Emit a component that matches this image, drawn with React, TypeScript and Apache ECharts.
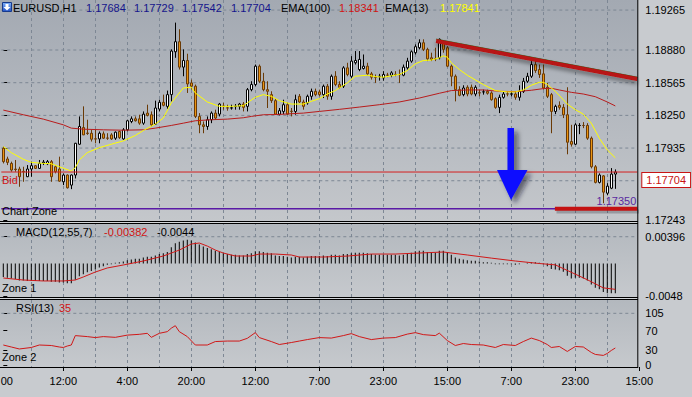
import React, { useEffect, useRef } from "react";
import * as echarts from "echarts";

// ---------- DATA ----------
// candles: [open, close, low, high]
const candles: number[][] = [
  [1.17933, 1.17804, 1.17787, 1.17949], [1.1783, 1.17797, 1.17771, 1.17852], [1.17787, 1.17723, 1.17707, 1.17804],
  [1.17733, 1.17728, 1.17707, 1.1782], [1.17733, 1.17659, 1.17562, 1.17755], [1.1771, 1.17705, 1.1761, 1.17755],
  [1.17659, 1.17733, 1.17655, 1.17771], [1.17733, 1.17765, 1.17659, 1.17804], [1.17765, 1.17739, 1.17733, 1.17771],
  [1.17739, 1.17787, 1.17733, 1.1782], [1.1779, 1.178, 1.17771, 1.1782], [1.17784, 1.17804, 1.17771, 1.1782],
  [1.17804, 1.17659, 1.1761, 1.1782], [1.17755, 1.17707, 1.17691, 1.17771], [1.17733, 1.17616, 1.1761, 1.17852],
  [1.1761, 1.17675, 1.17578, 1.17691], [1.17675, 1.17552, 1.17545, 1.17681], [1.17578, 1.17675, 1.17539, 1.17681],
  [1.17675, 1.17981, 1.17642, 1.17985], [1.17972, 1.18143, 1.17965, 1.1824], [1.18133, 1.18062, 1.1806, 1.18337],
  [1.1808, 1.18076, 1.18062, 1.18208], [1.18078, 1.1802, 1.17998, 1.18111], [1.18024, 1.18022, 1.17981, 1.18111],
  [1.18023, 1.18078, 1.17981, 1.18095], [1.18072, 1.1803, 1.18023, 1.18095], [1.18032, 1.1803, 1.18014, 1.18078],
  [1.18062, 1.18023, 1.18014, 1.18078], [1.1803, 1.18088, 1.18014, 1.18095], [1.18095, 1.18036, 1.18023, 1.18101],
  [1.18023, 1.18111, 1.18014, 1.18127], [1.18111, 1.18198, 1.18095, 1.18208], [1.18191, 1.18217, 1.18175, 1.1824],
  [1.18217, 1.18198, 1.18191, 1.1824], [1.18217, 1.18175, 1.18159, 1.18256], [1.18175, 1.18262, 1.18159, 1.18288],
  [1.18272, 1.1825, 1.1824, 1.18353], [1.18256, 1.18159, 1.18143, 1.18288], [1.18166, 1.18321, 1.18159, 1.18392],
  [1.18311, 1.18376, 1.18288, 1.18401], [1.18376, 1.18347, 1.18337, 1.1845], [1.18337, 1.1845, 1.18314, 1.18489],
  [1.1845, 1.1887, 1.18385, 1.18886], [1.18863, 1.1896, 1.18805, 1.19144], [1.1896, 1.18715, 1.18692, 1.1908],
  [1.18715, 1.18779, 1.18627, 1.18886], [1.18779, 1.18553, 1.18466, 1.18844], [1.18563, 1.18531, 1.18498, 1.18595],
  [1.18531, 1.1824, 1.18224, 1.18547], [1.1824, 1.18159, 1.18078, 1.18272], [1.18159, 1.18143, 1.18078, 1.18191],
  [1.18143, 1.18208, 1.18111, 1.1824], [1.18208, 1.18272, 1.18175, 1.18288], [1.18272, 1.18224, 1.18208, 1.18305],
  [1.18262, 1.18359, 1.1824, 1.1837], [1.1834, 1.18337, 1.18305, 1.1837], [1.18322, 1.18321, 1.18295, 1.18353],
  [1.18321, 1.18322, 1.18305, 1.18353], [1.18335, 1.18338, 1.18305, 1.18359], [1.18337, 1.18359, 1.18305, 1.1837],
  [1.18359, 1.18327, 1.18288, 1.18379], [1.18337, 1.18498, 1.18288, 1.18514], [1.18498, 1.18547, 1.18482, 1.18579],
  [1.18547, 1.18724, 1.18531, 1.1874], [1.18724, 1.18579, 1.18563, 1.1874], [1.18579, 1.18498, 1.18482, 1.1866],
  [1.18498, 1.18482, 1.18321, 1.18579], [1.1845, 1.18392, 1.1837, 1.18482], [1.18392, 1.18262, 1.18256, 1.18417],
  [1.18262, 1.18295, 1.1825, 1.18321], [1.18288, 1.18353, 1.18262, 1.18401], [1.18353, 1.18262, 1.18256, 1.1837],
  [1.1829, 1.18288, 1.1824, 1.18321], [1.18288, 1.18401, 1.18256, 1.1845], [1.18434, 1.18379, 1.1837, 1.18456],
  [1.18379, 1.18337, 1.18305, 1.18401], [1.1837, 1.18434, 1.18353, 1.1845], [1.18434, 1.18482, 1.18401, 1.18508],
  [1.18482, 1.1845, 1.18434, 1.18508], [1.18476, 1.1845, 1.18434, 1.18498], [1.1845, 1.18531, 1.18417, 1.18547],
  [1.18531, 1.18434, 1.18401, 1.18553], [1.18434, 1.18627, 1.18401, 1.18644], [1.18627, 1.18547, 1.18531, 1.18676],
  [1.18547, 1.18521, 1.18508, 1.18579], [1.18531, 1.18708, 1.18514, 1.18724], [1.18708, 1.18644, 1.18627, 1.18757],
  [1.18627, 1.18773, 1.18611, 1.18821], [1.18757, 1.18779, 1.1874, 1.1887], [1.18692, 1.18789, 1.18676, 1.1887],
  [1.18702, 1.18724, 1.18692, 1.18837], [1.18724, 1.1865, 1.18637, 1.18757], [1.1865, 1.18618, 1.18595, 1.18669],
  [1.1862, 1.18618, 1.18563, 1.18644], [1.18625, 1.18627, 1.18585, 1.1865], [1.18611, 1.18644, 1.18585, 1.18676],
  [1.18638, 1.18637, 1.18618, 1.1866], [1.18637, 1.1866, 1.18618, 1.18676], [1.18645, 1.18644, 1.18627, 1.18676],
  [1.18644, 1.18642, 1.18563, 1.18692], [1.18637, 1.18715, 1.18627, 1.1874], [1.18708, 1.18773, 1.18692, 1.18805],
  [1.18773, 1.18863, 1.18757, 1.18876], [1.18854, 1.18912, 1.18837, 1.18934], [1.18902, 1.1895, 1.18886, 1.18983],
  [1.1895, 1.18886, 1.1887, 1.18983], [1.18886, 1.18795, 1.18773, 1.18902], [1.18805, 1.18789, 1.18773, 1.18854],
  [1.18796, 1.18795, 1.18773, 1.18902], [1.18805, 1.18983, 1.18789, 1.18992], [1.1895, 1.18886, 1.18854, 1.18973],
  [1.18902, 1.18724, 1.18715, 1.18918], [1.18724, 1.18627, 1.18531, 1.1874], [1.18627, 1.18498, 1.18385, 1.18644],
  [1.18498, 1.18443, 1.18434, 1.18531], [1.1845, 1.18514, 1.18434, 1.1854], [1.18521, 1.18456, 1.18434, 1.1854],
  [1.18521, 1.18456, 1.18443, 1.18547], [1.18456, 1.18521, 1.18434, 1.1854], [1.18468, 1.18466, 1.18434, 1.18498],
  [1.18476, 1.18477, 1.1845, 1.18498], [1.18482, 1.18463, 1.1845, 1.18498], [1.18466, 1.18401, 1.18392, 1.18482],
  [1.18411, 1.18327, 1.18314, 1.18424], [1.18327, 1.18424, 1.18272, 1.1845], [1.18424, 1.18456, 1.18411, 1.18482],
  [1.18457, 1.18456, 1.18434, 1.18482], [1.18455, 1.18457, 1.18434, 1.18482], [1.18456, 1.18424, 1.18401, 1.18482],
  [1.18424, 1.18482, 1.18392, 1.1854], [1.18482, 1.18579, 1.18466, 1.18611], [1.18579, 1.18627, 1.18563, 1.1866],
  [1.18627, 1.1874, 1.18611, 1.18773], [1.1874, 1.18682, 1.1866, 1.18789], [1.18692, 1.18644, 1.18611, 1.1874],
  [1.1865, 1.18514, 1.18498, 1.1874], [1.18521, 1.18434, 1.18417, 1.18563], [1.1845, 1.18288, 1.18078, 1.18466],
  [1.18288, 1.18337, 1.18262, 1.18353], [1.18347, 1.18327, 1.18305, 1.18385], [1.18327, 1.18256, 1.18224, 1.18359],
  [1.18256, 1.17991, 1.17875, 1.18521], [1.17998, 1.17972, 1.17949, 1.18159], [1.17972, 1.18159, 1.17965, 1.18175],
  [1.18152, 1.18153, 1.18069, 1.18175], [1.18153, 1.18152, 1.18127, 1.18185], [1.18153, 1.1803, 1.18014, 1.18175],
  [1.1803, 1.17755, 1.17739, 1.18046], [1.17755, 1.17604, 1.17594, 1.17771], [1.17604, 1.17675, 1.17594, 1.17691],
  [1.17667, 1.1751, 1.17403, 1.17675], [1.175, 1.17568, 1.1748, 1.17597], [1.17548, 1.17684, 1.17539, 1.17742],
  [1.17684, 1.17704, 1.17542, 1.17729],
];

// [bar index, value]
const ema100: number[][] = [
  [0, 1.18301], [5, 1.18256], [10, 1.18214], [15, 1.18159], [17, 1.18127], [20, 1.18117], [25, 1.18111], [30, 1.18107],
  [35, 1.18111], [38, 1.18127], [42, 1.18153], [45, 1.18175], [48, 1.18198], [52, 1.18208], [56, 1.18214], [60, 1.18227],
  [62, 1.1824], [65, 1.18256], [69, 1.18259], [72, 1.18266], [75, 1.18272], [79, 1.18288], [84, 1.18308], [89, 1.1833],
  [94, 1.18353], [99, 1.18379], [104, 1.18417], [109, 1.18463], [112, 1.18489], [116, 1.18495], [120, 1.18495],
  [124, 1.18482], [128, 1.18479], [132, 1.18492], [135, 1.18508], [137, 1.18511], [139, 1.18495], [142, 1.18472],
  [145, 1.18456], [148, 1.1843], [151, 1.18379], [153, 1.18341],
];
const ema13: number[][] = [
  [0, 1.17949], [2, 1.17891], [5, 1.17827], [7, 1.17797], [10, 1.17787], [12, 1.17784], [14, 1.17755], [17, 1.17713],
  [18, 1.17746], [19, 1.1782], [21, 1.17891], [24, 1.17939], [27, 1.17972], [30, 1.18004], [33, 1.18056], [35, 1.18104],
  [38, 1.18166], [40, 1.18224], [42, 1.1837], [44, 1.18466], [45, 1.18514], [47, 1.18521], [48, 1.18466], [51, 1.18379],
  [54, 1.18337], [57, 1.18337], [60, 1.18343], [61, 1.1837], [63, 1.18424], [65, 1.1845], [67, 1.18434], [69, 1.18392],
  [72, 1.18359], [75, 1.18359], [77, 1.18385], [79, 1.18411], [81, 1.18456], [83, 1.18489], [86, 1.18563], [88, 1.18627],
  [91, 1.18637], [93, 1.18624], [95, 1.18618], [97, 1.18631], [99, 1.18644], [101, 1.18682], [103, 1.18747],
  [105, 1.18779], [107, 1.18783], [109, 1.18805], [110, 1.18824], [111, 1.18811], [112, 1.18757], [114, 1.18692],
  [116, 1.18637], [118, 1.18592], [120, 1.18547], [123, 1.18489], [126, 1.18476], [128, 1.18476], [130, 1.18495],
  [132, 1.1854], [134, 1.18569], [135, 1.18569], [136, 1.18547], [138, 1.18482], [140, 1.18401], [141, 1.18359],
  [143, 1.18305], [145, 1.18262], [147, 1.18175], [149, 1.1803], [151, 1.17917], [153, 1.17841],
];

const macdHist: number[] = [
  -0.002, -0.0021, -0.0022, -0.0023, -0.0025, -0.0025, -0.0026, -0.0026, -0.0026, -0.0026, -0.0026, -0.0026, -0.0027,
  -0.0027, -0.0028, -0.0028, -0.0029, -0.0029, -0.0024, -0.0019, -0.0016, -0.0013, -0.0011, -0.0009, -0.0006, -0.0004,
  -0.0002, -0.0001, 0.0001, 0.0002, 0.0003, 0.0005, 0.0006, 0.0007, 0.0007, 0.0009, 0.001, 0.001, 0.0012, 0.0014,
  0.0015, 0.0017, 0.0024, 0.003, 0.0032, 0.0034, 0.0035, 0.0034, 0.0031, 0.0028, 0.0025, 0.0023, 0.0021, 0.0019,
  0.0017, 0.0015, 0.0014, 0.0013, 0.0013, 0.0012, 0.0012, 0.0014, 0.0015, 0.0018, 0.0018, 0.0017, 0.0016, 0.0015,
  0.0012, 0.0011, 0.0011, 0.001, 0.0009, 0.001, 0.001, 0.0009, 0.001, 0.0011, 0.0011, 0.0011, 0.0012, 0.0011, 0.0013,
  0.0013, 0.0012, 0.0014, 0.0014, 0.0015, 0.0016, 0.0016, 0.0016, 0.0015, 0.0014, 0.0013, 0.0013, 0.0013, 0.0013,
  0.0013, 0.0013, 0.0012, 0.0013, 0.0014, 0.0016, 0.0018, 0.0019, 0.0019, 0.0017, 0.0016, 0.0016, 0.0019, 0.0019,
  0.0016, 0.0013, 0.0009, 0.0007, 0.0006, 0.0005, 0.0004, 0.0004, 0.0003, 0.0002, 0.0002, 0.0001, -0.0001, -0.0001,
  -0.0001, -0.0001, -0.0001, -0.0002, -0.0001, 0.0, 0.0001, 0.0002, 0.0002, 0.0001, -0.0001, -0.0004, -0.0008,
  -0.0009, -0.001, -0.0012, -0.0018, -0.0022, -0.0021, -0.0021, -0.0022, -0.0025, -0.0031, -0.0036, -0.0038, -0.0042,
  -0.0044, -0.0044, -0.0044,
];
const macdSignal: number[][] = [
  [0, -0.00214], [5, -0.00244], [10, -0.00258], [15, -0.00258], [18, -0.00244], [20, -0.00199], [23, -0.00126],
  [26, -0.00066], [30, -0.00022], [35, 0.00037], [40, 0.00111], [44, 0.00199], [47, 0.00288], [49, 0.00303],
  [51, 0.00258], [53, 0.00199], [55, 0.00155], [58, 0.00111], [62, 0.00111], [64, 0.0014], [68, 0.0014], [72, 0.00126],
  [74, 0.00096], [80, 0.00096], [86, 0.0011], [92, 0.0014], [98, 0.0014], [104, 0.00155], [110, 0.0017], [116, 0.00126],
  [122, 0.0008], [128, 0.00037], [134, 0.0], [138, -0.0002], [142, -0.0013], [146, -0.0024], [150, -0.0036],
  [153, -0.00382],
];
const rsi: number[][] = [
  [0, 41], [2, 37], [4, 33], [7, 36], [9, 41], [12, 40], [14, 37], [15, 36], [16, 39], [17, 41], [18, 60], [21, 58],
  [23, 56], [25, 58], [28, 56.5], [31, 61], [34, 62.6], [36, 64.6], [37, 56.5], [39, 64.6], [41, 68], [42, 75], [43, 80],
  [44, 68], [46, 58], [48, 41], [51, 41], [53, 48], [56, 49], [59, 49], [61, 54.5], [63, 66], [64, 56], [67, 48], [69, 42],
  [72, 46], [74, 49], [76, 52], [79, 56], [82, 55], [85, 60], [87, 64], [89, 58], [92, 52], [95, 55], [98, 56], [101, 63],
  [103, 66], [105, 62], [108, 60], [109, 65], [111, 50], [113, 40], [115, 44], [117, 42], [120, 41], [123, 36], [125, 42],
  [128, 40], [130, 48], [132, 55], [134, 50], [136, 42], [137, 36], [139, 38], [141, 28], [143, 38], [145, 37], [147, 26],
  [148, 22], [150, 20], [151, 24], [152, 30], [153, 35],
];

const priceTicks = [1.19265, 1.1888, 1.18565, 1.1825, 1.17935, 1.17243];
const priceGrid = [1.19265, 1.1888, 1.18565, 1.1825, 1.17935, 1.1762];
const macdTicks = [0.00396, -0.0048];
const macdTickLabels = ["0.00396", "-0.0048"];
const rsiTicks = [105, 70, 30, 0];
const timeLabels = ["00", "12:00", "4:00", "20:00", "12:00", "7:00", "23:00", "15:00", "7:00", "23:00", "15:00"];
const bidPrice = 1.17704;
const zonePrice = 1.1735;
// [bar position, price]
const trendLine = [[108.2, 1.18967], [158.5, 1.186]];
const supportLine = [[137.9, 1.1735], [158.5, 1.1735]];

// ---------- CHART ----------
const FONT = "'Liberation Sans', Arial, sans-serif";
const SLOTS = 159;
const X0 = -0.5;
const X1 = SLOTS - 0.5;
const slotCats = Array.from({ length: SLOTS }, (_, i) => String(i));
const timeCats = Array.from({ length: 161 }, (_, k) => (k % 16 === 0 ? timeLabels[k / 16] : ""));

function txt(text: string, x: number, y: number, fill: string, extra: any = {}) {
  return {
    type: "text",
    x,
    y,
    z: 50,
    silent: true,
    style: { text, fill, font: `11px ${FONT}`, textVerticalAlign: "middle", verticalAlign: "middle", ...extra },
  };
}

function buildOption() {
  const last = candles[candles.length - 1];
  const headerVals = [last[0], last[3], last[2], last[1]].map((v) => v.toFixed(5));
  const ema100Last = ema100[ema100.length - 1][1].toFixed(5);
  const ema13Last = ema13[ema13.length - 1][1].toFixed(5);
  const sigLast = macdSignal[macdSignal.length - 1][1].toFixed(5);
  const histLast = String(macdHist[macdHist.length - 1]);
  const rsiLast = String(rsi[rsi.length - 1][1]);

  const grad = (a: string, b: string) => ({
    type: "linear", x: 0, y: 0, x2: 0, y2: 1,
    colorStops: [{ offset: 0, color: a }, { offset: 1, color: b }],
  });
  const gridDash = { color: "#7d8794", type: [3, 3], width: 1 };
  const black = "#000000";

  const hLine = (y: number) => ({
    type: "line", z: 60, silent: true,
    shape: { x1: 0, y1: y, x2: 638, y2: y },
    style: { stroke: black, lineWidth: 1 },
  });

  // a straight segment drawn through the axes of one panel
  const seg = (xi: number, yi: number, pts: number[][], lineStyle: any, z: number, extra: any = {}) => ({
    type: "line", xAxisIndex: xi, yAxisIndex: yi, data: pts, showSymbol: false, symbol: "none",
    lineStyle, z, silent: true, clip: false, ...extra,
  });

  const series: any[] = [];
  priceGrid.forEach((v) => series.push(seg(4, 0, [[X0, v], [X1, v]], gridDash, 1)));
  series.push(seg(5, 1, [[X0, macdTicks[0]], [X1, macdTicks[0]]], gridDash, 1));
  series.push(seg(6, 2, [[X0, rsiTicks[0]], [X1, rsiTicks[0]]], gridDash, 1));

  series.push({
    type: "candlestick", xAxisIndex: 0, yAxisIndex: 0, data: candles, barWidth: 3, z: 3, silent: true,
    itemStyle: { color: "#ffffff", color0: "#eb9410", borderColor: "#000000", borderColor0: "#6a3a06", borderWidth: 1 },
  });
  series.push({
    type: "line", name: "EMA(100)", xAxisIndex: 0, yAxisIndex: 0, data: ema100, showSymbol: false, symbol: "none",
    lineStyle: { color: "#b81c1c", width: 1 }, z: 4, silent: true,
  });
  series.push({
    type: "line", name: "EMA(13)", xAxisIndex: 0, yAxisIndex: 0, data: ema13, showSymbol: false, symbol: "none",
    lineStyle: { color: "#ffff00", width: 1 }, z: 4, silent: true,
  });
  // Bid line with price box
  series.push(seg(4, 0, [[X0, bidPrice], [X1, bidPrice]], { color: "#d42020", width: 1 }, 5, {
    endLabel: {
      show: true, formatter: bidPrice.toFixed(5), distance: 5, offset: [0, 8],
      color: "#c81414", backgroundColor: "#ffffff", borderColor: "#c81414", borderWidth: 1,
      padding: [2, 4, 1, 4], fontSize: 11, fontFamily: FONT,
    },
  }));
  // Chart zone line
  series.push(seg(4, 0, [[X0, zonePrice], [X1, zonePrice]], { color: "#5a1aa6", width: 1.5 }, 5, {
    endLabel: {
      show: true, formatter: zonePrice.toFixed(5), distance: 0, offset: [-1, -2], align: "right", verticalAlign: "bottom",
      color: "#5a2aa0", fontSize: 11, fontFamily: FONT,
    },
  }));
  // support segment (with a soft shadow drawn just below it) and trend line
  series.push(seg(4, 0, supportLine.map((p) => [p[0] + 0.4, p[1] - 0.00027]), { color: "rgba(40,40,55,0.28)", width: 4 }, 6));
  series.push(seg(4, 0, supportLine, { color: "#c41212", width: 4 }, 6));
  series.push(seg(4, 0, trendLine.map((p) => [p[0], p[1] + 0.00018]), { color: "#2f6a1c", width: 1 }, 6));
  series.push(seg(4, 0, trendLine, { color: "#b81212", width: 4, shadowBlur: 4, shadowColor: "rgba(0,0,0,0.45)", shadowOffsetY: 3 }, 6));

  series.push({
    type: "bar", xAxisIndex: 1, yAxisIndex: 1, data: macdHist, barWidth: 1, itemStyle: { color: "#000000" }, z: 3, silent: true,
  });
  series.push({
    type: "line", xAxisIndex: 1, yAxisIndex: 1, data: macdSignal, showSymbol: false, symbol: "none",
    lineStyle: { color: "#d01818", width: 1 }, z: 4, silent: true,
  });
  series.push({
    type: "line", xAxisIndex: 2, yAxisIndex: 2, data: rsi, showSymbol: false, symbol: "none",
    lineStyle: { color: "#d01818", width: 1 }, z: 4, silent: true,
  });

  const gridBase = { outerBoundsMode: "none", containLabel: false };

  return {
    animation: false,
    backgroundColor: "transparent",
    textStyle: { fontFamily: FONT },
    grid: [
      { ...gridBase, left: 1.3, width: 636, top: 0, height: 221 },
      { ...gridBase, left: 1.3, width: 636, top: 224, height: 73 },
      { ...gridBase, left: 1.3, width: 636, top: 300, height: 67 },
      { ...gridBase, left: -0.7, width: 640, top: 0, height: 367 },
    ],
    xAxis: [
      { type: "category", gridIndex: 0, data: slotCats, show: false },
      { type: "category", gridIndex: 1, data: slotCats, show: false },
      { type: "category", gridIndex: 2, data: slotCats, show: false },
      {
        type: "category", gridIndex: 3, data: timeCats, boundaryGap: false,
        axisLine: { show: false },
        axisTick: { show: true, interval: 15, length: 4, lineStyle: { color: black } },
        axisLabel: {
          interval: 15, color: black, fontSize: 11, fontFamily: FONT, margin: 8, hideOverlap: false,
          formatter: (v: string, i: number) => (i === 0 ? `{first|${v}}` : v),
          rich: { first: { padding: [0, 0, 0, 15], fontSize: 11, fontFamily: FONT, color: black } },
        },
        splitLine: { show: true, interval: (i: number) => i % 8 === 0 && i > 0 && i < 160, lineStyle: gridDash },
      },
      { type: "value", gridIndex: 0, min: X0, max: X1, show: false, position: "top" },
      { type: "value", gridIndex: 1, min: X0, max: X1, show: false, position: "top" },
      { type: "value", gridIndex: 2, min: X0, max: X1, show: false, position: "top" },
    ],
    yAxis: [
      {
        type: "value", gridIndex: 0, position: "right", min: 1.17232, max: 1.19362,
        axisLine: { show: false }, splitLine: { show: false },
        axisTick: { show: true, length: 4, customValues: priceTicks, lineStyle: { color: black } },
        axisLabel: { customValues: priceTicks, formatter: (v: number) => v.toFixed(5), color: black, fontSize: 11, fontFamily: FONT, margin: 8 },
      },
      {
        type: "value", gridIndex: 1, position: "right", min: -0.00495, max: 0.00584,
        axisLine: { show: false }, splitLine: { show: false },
        axisTick: { show: true, length: 4, customValues: macdTicks, lineStyle: { color: black } },
        axisLabel: {
          customValues: macdTicks,
          formatter: (v: number) => {
            const k = macdTicks.findIndex((t) => Math.abs(t - v) < 1e-7);
            return k >= 0 ? macdTickLabels[k] : "";
          },
          color: black, fontSize: 11, fontFamily: FONT, margin: 8,
        },
      },
      {
        type: "value", gridIndex: 2, position: "right", min: -3.4, max: 131.9,
        axisLine: { show: false }, splitLine: { show: false },
        axisTick: { show: true, length: 4, customValues: rsiTicks, lineStyle: { color: black } },
        axisLabel: { customValues: rsiTicks, color: black, fontSize: 11, fontFamily: FONT, margin: 8 },
      },
      { type: "value", gridIndex: 3, min: 0, max: 1, show: false },
    ],
    series,
    graphic: [
      // panel backgrounds
      { type: "rect", z: -10, silent: true, shape: { x: 0, y: 0, width: 638, height: 221 }, style: { fill: grad("#a3a9b2", "#c4c7cb") } },
      { type: "rect", z: -10, silent: true, shape: { x: 0, y: 224, width: 638, height: 73 }, style: { fill: grad("#b3b8be", "#c6c9cd") } },
      { type: "rect", z: -10, silent: true, shape: { x: 0, y: 300, width: 638, height: 67 }, style: { fill: grad("#b3b8be", "#c6c9cd") } },
      // separators
      { type: "rect", z: 59, silent: true, shape: { x: 0, y: 221.5, width: 638, height: 2 }, style: { fill: "#d3d6d9" } },
      { type: "rect", z: 59, silent: true, shape: { x: 0, y: 297.5, width: 638, height: 2 }, style: { fill: "#d3d6d9" } },
      hLine(221.5), hLine(223.5), hLine(297.5), hLine(299.5), hLine(367.5),
      { type: "line", z: 60, silent: true, shape: { x1: 637.8, y1: 0, x2: 637.8, y2: 368 }, style: { stroke: black, lineWidth: 1 } },
      // header icon
      {
        type: "rect", z: 50, silent: true, shape: { x: 2.5, y: 2.5, width: 9, height: 9 },
        style: { fill: grad("#7fb0f8", "#2454c8"), stroke: "#173a8c", lineWidth: 1 },
      },
      {
        type: "polygon", z: 51, silent: true,
        shape: { points: [[5.5, 4], [8.5, 4], [8.5, 7], [10.5, 7], [7, 10.5], [3.5, 7], [5.5, 7]] },
        style: { fill: "#ffffff" },
      },
      // header texts
      txt("EURUSD,H1", 13, 8, black),
      txt(headerVals[0], 86, 8, "#15158c"),
      txt(headerVals[1], 134, 8, "#15158c"),
      txt(headerVals[2], 182, 8, "#15158c"),
      txt(headerVals[3], 231, 8, "#15158c"),
      txt("EMA(100)", 281, 8, black),
      txt(ema100Last, 339, 8, "#d01414"),
      txt("EMA(13)", 385, 8, black),
      txt(ema13Last, 440, 8, "#ffff00"),
      txt("Bid", 2, 180, "#d01414"),
      txt("Chart Zone", 2, 211, black),
      txt("MACD(12,55,7)", 16, 232, black),
      txt(sigLast, 104, 232, "#d01414"),
      txt(histLast, 157, 232, black),
      txt("Zone 1", 2, 288, black),
      txt("RSI(13)", 16, 308, black),
      txt(rsiLast, 59, 308, "#d01414"),
      txt("Zone 2", 2, 357, black),
      // blue arrow annotation
      {
        type: "polygon", z: 40, silent: true,
        shape: { points: [[507.5, 128], [514, 128], [514, 170], [527.5, 170], [511, 200], [497, 170], [507.5, 170]] },
        style: { fill: "#0a0aff", shadowBlur: 5, shadowOffsetX: 4, shadowOffsetY: 4, shadowColor: "rgba(10,10,40,0.55)" },
      },
    ],
  };
}

export default function App() {
  const ref = useRef<HTMLDivElement>(null);
  useEffect(() => {
    const chart = echarts.init(ref.current as HTMLDivElement, null, { renderer: "svg" });
    chart.setOption(buildOption() as any);
    return () => chart.dispose();
  }, []);
  return (
    <div
      ref={ref}
      style={{ position: "fixed", left: 0, top: 0, width: 692, height: 397, background: "#c8cbcf" }}
    />
  );
}
